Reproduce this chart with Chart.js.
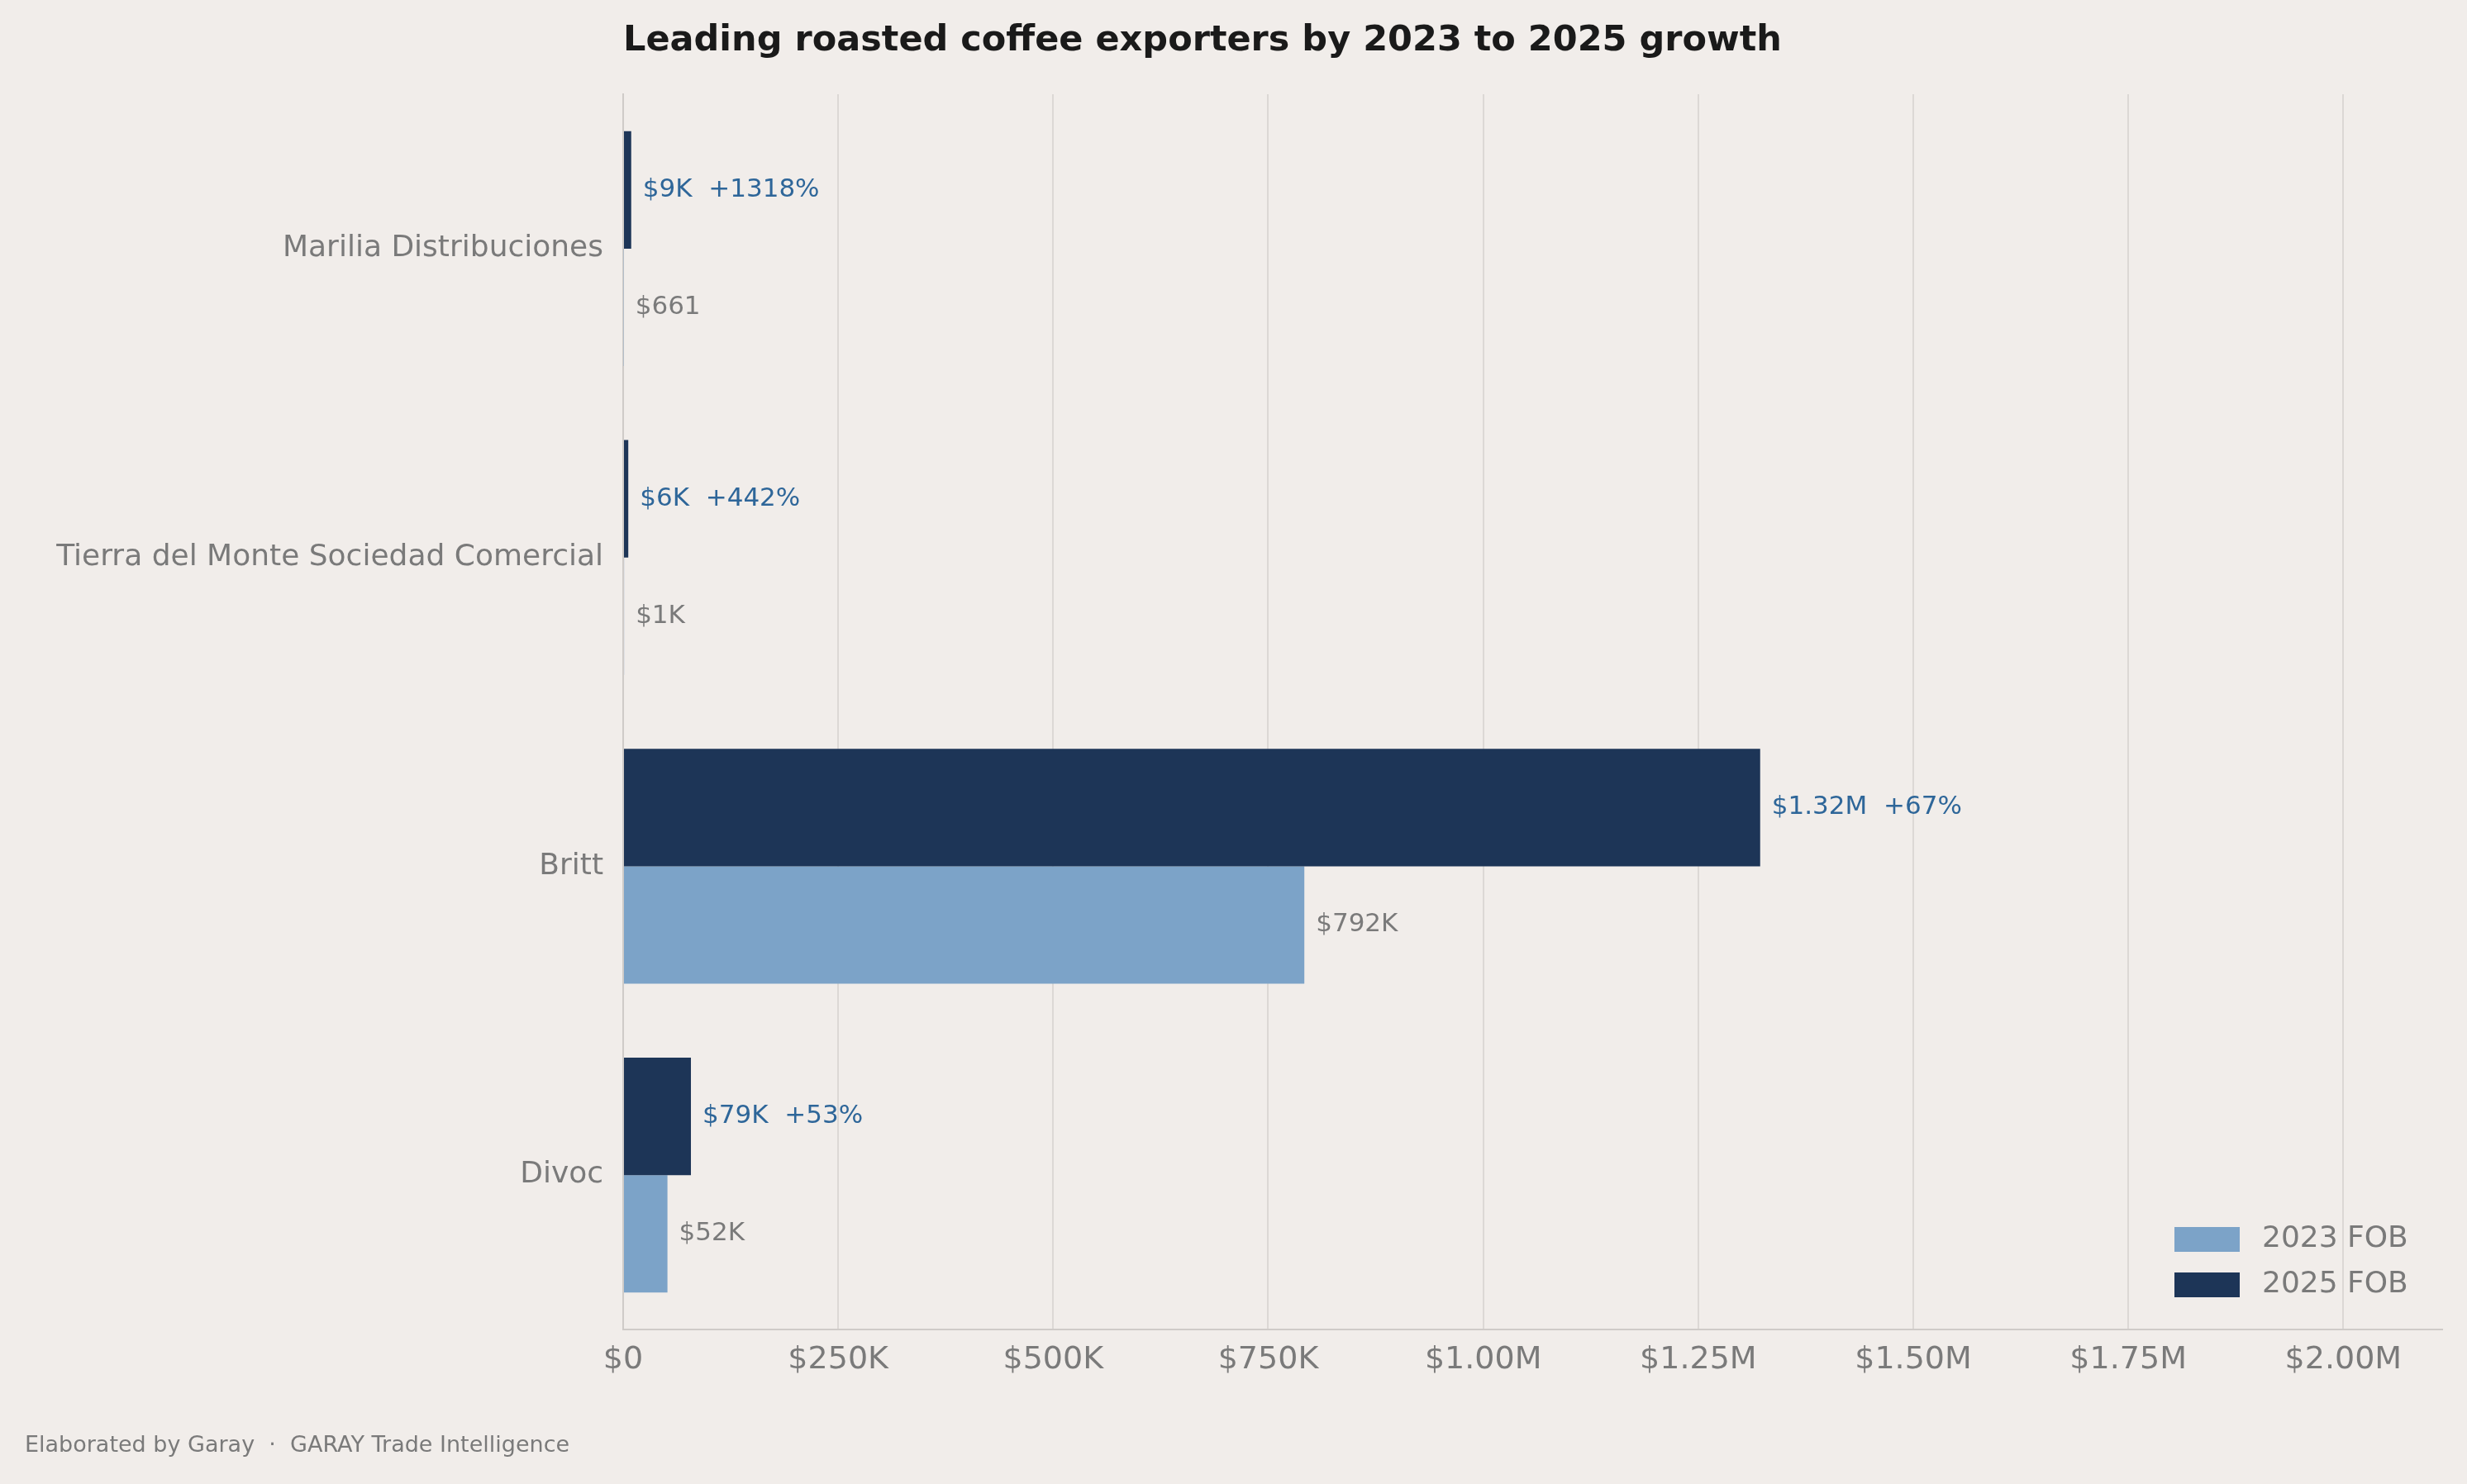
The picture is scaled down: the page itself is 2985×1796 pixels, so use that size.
<!DOCTYPE html>
<html>
<head>
    <title>Roasted coffee exporters</title>
    <script src="https://cdn.jsdelivr.net/npm/chart.js"></script>
    <style>
        body { margin: 0; background: #f1edea; }
    </style>
</head>
<body>
    <canvas id="growthChart" width="2985" height="1796"></canvas>

    <script>
        // Data
        const exporters = ['Marilia Distribuciones', 'Tierra del Monte Sociedad Comercial', 'Britt', 'Divoc'];
        const fob2023 = [661, 1100, 792000, 51500];
        const fob2025 = [9370, 5960, 1322000, 78800];
        const growthPct = [1318, 442, 67, 53];
        const xTicks = [0, 250000, 500000, 750000, 1000000, 1250000, 1500000, 1750000, 2000000];

        const BG = '#f1edea', DARK = '#1d3557', LIGHT = '#7ca3c8', BLUE = '#2e6699', GRAY = '#7a7a7a';

        function money(v) {
            if (v >= 1e6) return '$' + (v / 1e6).toFixed(2) + 'M';
            if (v >= 1e3) return '$' + Math.round(v / 1e3) + 'K';
            return '$' + Math.round(v);
        }
        function tickMoney(v) {
            if (v === 0) return '$0';
            if (v >= 1e6) return '$' + (v / 1e6).toFixed(2) + 'M';
            return '$' + (v / 1e3) + 'K';
        }

        // background, title, footer, value labels and legend
        const decor = {
            id: 'decor',
            beforeDraw(chart) {
                const c = chart.ctx;
                c.save();
                c.fillStyle = BG;
                c.fillRect(0, 0, chart.width, chart.height);
                c.restore();
            },
            afterDraw(chart) {
                const c = chart.ctx, area = chart.chartArea;
                c.save();
                c.textBaseline = 'middle';
                c.fillStyle = '#1a1a1a';
                c.font = 'bold 43px "DejaVu Sans"';
                c.fillText('Leading roasted coffee exporters by 2023 to 2025 growth', area.left, 50);
                c.fillStyle = GRAY;
                c.font = '27px "DejaVu Sans"';
                c.fillText('Elaborated by Garay  \u00b7  GARAY Trade Intelligence', 30, 1750);

                c.font = '31px "DejaVu Sans"';
                chart.getDatasetMeta(0).data.forEach((bar, i) => {
                    c.fillStyle = BLUE;
                    c.fillText(money(fob2025[i]) + '  +' + growthPct[i] + '%', bar.x + 14, bar.y);
                });
                chart.getDatasetMeta(1).data.forEach((bar, i) => {
                    c.fillStyle = GRAY;
                    c.fillText(money(fob2023[i]), bar.x + 14, bar.y);
                });

                // legend, bottom right inside the plot
                c.font = '36px "DejaVu Sans"';
                const items = [['2023 FOB', LIGHT], ['2025 FOB', DARK]];
                items.forEach(([txt, col], k) => {
                    const y = 1500 + k * 55;
                    c.fillStyle = col;
                    c.fillRect(2631, y - 15, 79, 30);
                    c.fillStyle = GRAY;
                    c.fillText(txt, 2737, y);
                });
                c.restore();
            }
        };

        const ctx = document.getElementById('growthChart').getContext('2d');
        new Chart(ctx, {
            type: 'bar',
            data: {
                labels: exporters,
                datasets: [
                    { label: '2025 FOB', data: fob2025, backgroundColor: DARK },
                    { label: '2023 FOB', data: fob2023, backgroundColor: LIGHT }
                ]
            },
            options: {
                indexAxis: 'y',
                responsive: false,
                devicePixelRatio: 1,
                animation: false,
                categoryPercentage: 0.76,
                barPercentage: 1,
                layout: { padding: { top: 114, right: 30, left: 0, bottom: 0 } },
                plugins: { legend: { display: false }, tooltip: { enabled: false } },
                scales: {
                    x: {
                        min: 0,
                        max: 2115000,
                        afterBuildTicks: s => { s.ticks = xTicks.map(v => ({ value: v })); },
                        afterFit: s => { s.height = 187; },
                        grid: { color: '#dcd8d5', lineWidth: 2, drawTicks: false },
                        border: { color: '#cfcbc8', width: 2 },
                        ticks: {
                            padding: 14,
                            color: GRAY,
                            font: { size: 38, family: 'DejaVu Sans' },
                            callback: v => tickMoney(v)
                        }
                    },
                    y: {
                        afterFit: s => { s.width = 754; },
                        grid: { display: false },
                        border: { color: '#cfcbc8', width: 2 },
                        ticks: {
                            padding: 16,
                            color: GRAY,
                            font: { size: 36, family: 'DejaVu Sans' }
                        }
                    }
                }
            },
            plugins: [decor]
        });
    </script>
</body>
</html>
